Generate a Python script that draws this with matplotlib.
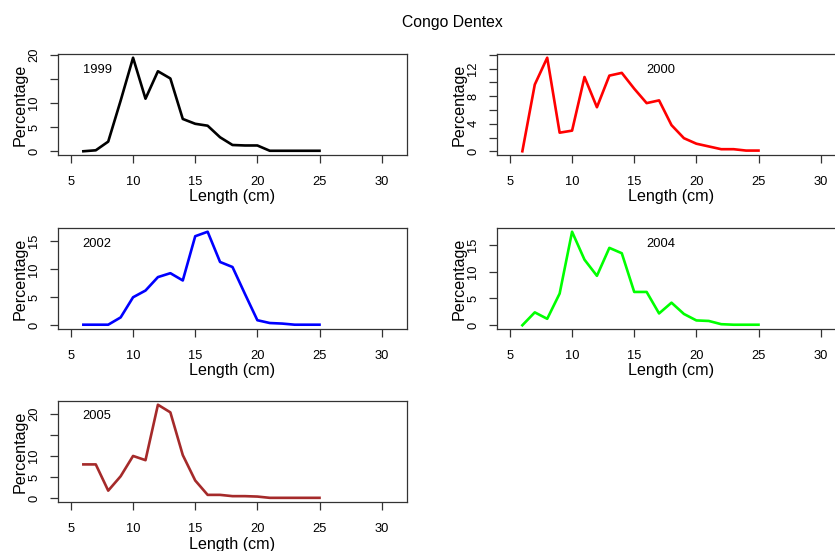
import numpy as np
import matplotlib
matplotlib.use('Agg')
import matplotlib.pyplot as plt

plt.rcParams['font.family'] = ['Liberation Sans', 'DejaVu Sans']

length = np.arange(6, 26)
years = ['1999', '2000', '2002', '2004', '2005']
colors = ['black', 'red', 'blue', '#00FF00', '#A52A2A']

pct_1999 = [0, 0.2, 2.0, 10.5, 19.4, 10.9, 16.6, 15.1, 6.7, 5.7,
            5.3, 2.9, 1.3, 1.2, 1.2, 0.1, 0.1, 0.1, 0.1, 0.1]
pct_2000 = [0, 9.7, 13.6, 2.7, 3.0, 10.8, 6.4, 11.0, 11.4, 9.1,
            7.0, 7.4, 3.8, 1.9, 1.1, 0.7, 0.3, 0.3, 0.1, 0.1]
pct_2002 = [0.1, 0.1, 0.1, 1.4, 5.0, 6.2, 8.6, 9.3, 8.0, 15.9,
            16.7, 11.3, 10.4, 5.6, 0.9, 0.4, 0.3, 0.1, 0.1, 0.1]
pct_2004 = [0, 2.4, 1.2, 5.9, 17.4, 12.2, 9.2, 14.4, 13.4, 6.2,
            6.2, 2.2, 4.2, 2.1, 0.9, 0.8, 0.2, 0.1, 0.1, 0.1]
pct_2005 = [8.0, 8.0, 1.8, 5.2, 10.0, 9.0, 22.1, 20.3, 10.2, 4.2,
            0.8, 0.8, 0.5, 0.5, 0.4, 0.1, 0.1, 0.1, 0.1, 0.1]
series = [pct_1999, pct_2000, pct_2002, pct_2004, pct_2005]

# y ticks and which ones get a label (R drops overlapping ones)
yticks = [[0, 5, 10, 15, 20], list(range(0, 15, 2)), [0, 5, 10, 15],
          [0, 5, 10, 15], [0, 5, 10, 15, 20]]
ylabs = [['0', '5', '10', '', '20'], ['0', '', '4', '', '8', '', '12', ''],
         ['0', '5', '10', '15'], ['0', '5', '10', '15'],
         ['0', '5', '10', '', '20']]
# year label position (data coords)
year_pos = [(7.1, 16.9), (17.1, 11.85), (7.1, 14.6), (17.1, 15.2), (7.1, 19.4)]

W, H = 835, 551
fig = plt.figure(figsize=(W / 100, H / 100), dpi=100)

# panel boxes in pixels: left, top
boxes = [(58, 54), (497, 54), (58, 228), (497, 228), (58, 401)]
bw, bh = 349, 101

for i in range(5):
    l, t = boxes[i]
    ax = fig.add_axes([l / W, 1 - (t + bh) / H, bw / W, bh / H])
    y = series[i]
    ax.plot(length, y, color=colors[i], lw=1.9)
    ymax = max(y)
    ax.set_ylim(-0.04 * ymax, ymax * 1.04)
    ax.set_xlim(3.96, 32.04)
    ax.set_xticks([5, 10, 15, 20, 25, 30])
    ax.set_yticks(yticks[i])
    ax.set_yticklabels(ylabs[i])
    ax.tick_params(length=5.8, width=0.9, color='#333333', labelsize=9.3,
                   direction='out')
    ax.tick_params(axis='x', pad=9)
    ax.tick_params(axis='y', pad=7, labelrotation=90)
    for lab in ax.get_yticklabels():
        lab.set_va('center')
    for sp in ax.spines.values():
        sp.set_color('#333333')
        sp.set_linewidth(0.9)
    ax.set_xlabel('Length (cm)', fontsize=11.6, va='center')
    ax.xaxis.set_label_coords(0.5, -42 / bh)
    ax.set_ylabel('Percentage', fontsize=11.6, va='center')
    ax.yaxis.set_label_coords(-38 / bw, 0.5)
    ax.text(year_pos[i][0], year_pos[i][1], years[i], ha='center',
            va='center', fontsize=9.3)

fig.text(452 / W, 1 - 22 / H, 'Congo Dentex', ha='center', va='center',
         fontsize=11.3)

fig.savefig('out.png', dpi=100)
